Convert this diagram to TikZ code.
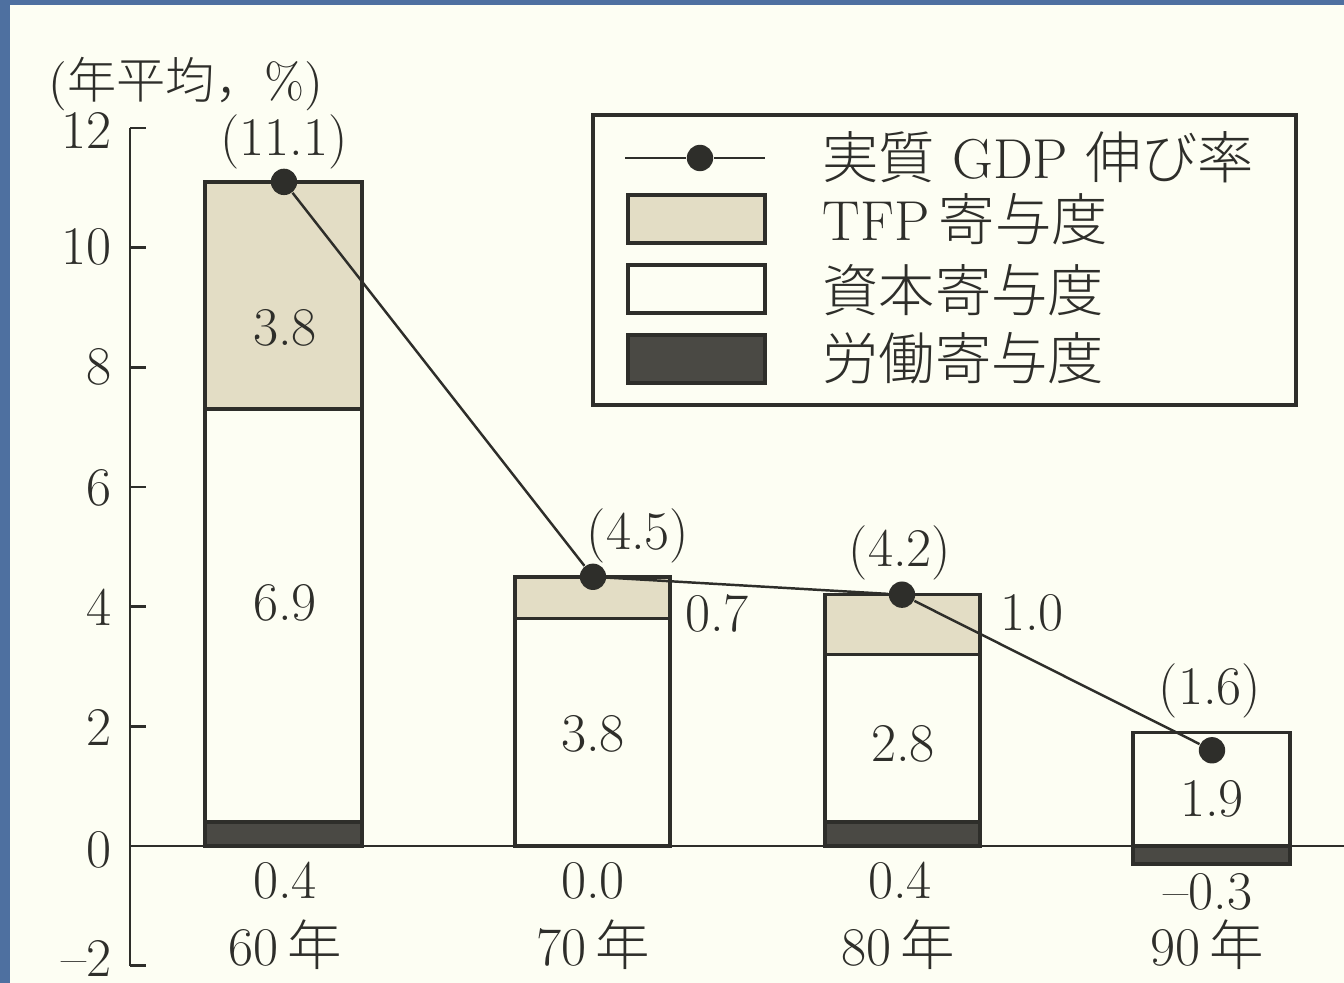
\documentclass[tikz,border=0pt]{standalone}
\usepackage{fontspec}
\IfFontExistsTF{Noto Sans CJK JP Light}
  {\newfontfamily\cjk{Noto Sans CJK JP Light}}
  {\newfontfamily\cjk{Noto Sans CJK JP}}
\definecolor{frameblue}{HTML}{4E70A0}
\definecolor{paper}{HTML}{FDFEF3}
\definecolor{tfp}{HTML}{E3DDC5}
\definecolor{labor}{HTML}{4A4944}
\definecolor{ink}{HTML}{2E2E2A}
\begin{document}
\begin{tikzpicture}[x=0.01cm,y=-0.01cm,
  bar/.style={draw=ink,line width=1pt},
  tfpbar/.style={bar,fill=tfp},
  capbar/.style={bar,fill=paper},
  labbar/.style={bar,fill=labor},
  num/.style={font=\fontsize{15.5}{18}\selectfont,text=ink,inner sep=0pt},
  ylab/.style={num,anchor=east},
  dot/.style={circle,fill=ink,inner sep=0pt,minimum size=7.5pt},
  gdp/.style={draw=ink,line width=0.7pt},
  leg/.style={font=\fontsize{16}{18}\selectfont,anchor=west,text=ink,inner sep=0pt},
  axis/.style={draw=ink,line width=0.8pt},
]
% background and frame
\fill[frameblue] (0,0) rectangle (1344,983);
\fill[paper] (10,5) rectangle (1344,983);
\useasboundingbox (0,0) rectangle (1344,983);

% axes
\draw[axis] (130,128) -- (130,966);
\foreach \yy in {128,247.7,367.4,487,606.7,726.3,965.7}
  \draw[axis] (130,\yy) -- (146,\yy);
\draw[axis] (130,846) -- (1344,846);

% y labels
\node[ylab] (y12) at (112,130) {12};
\node[ylab] (y10) at (112,247) {10};
\node[ylab] (y8) at (112,367) {8};
\node[ylab] (y6) at (112,488) {6};
\node[ylab] (y4) at (112,607) {4};
\node[ylab] (y2) at (112,727) {2};
\node[ylab] (y0) at (112,850) {0};
\node[ylab] (ym2) at (112,958) {\textendash2};
\node[anchor=west,inner sep=0pt,text=ink,font=\fontsize{14}{16}\selectfont] (unit) at (48,84) {({\cjk 年平均，}\%)};

% bars 60
\draw[labbar] (205,846) rectangle (362,822.1);
\draw[capbar] (205,822.1) rectangle (362,409.2);
\draw[tfpbar] (205,409.2) rectangle (362,181.9);
% bars 70
\draw[capbar] (515,846) rectangle (670,618.6);
\draw[tfpbar] (515,618.6) rectangle (670,576.8);
% bars 80
\draw[labbar] (825,846) rectangle (980,822.1);
\draw[capbar] (825,822.1) rectangle (980,654.5);
\draw[tfpbar] (825,654.5) rectangle (980,594.7);
% bars 90
\draw[labbar] (1133,846) rectangle (1290,863.9);
\draw[capbar] (1133,846) rectangle (1290,732.3);

% GDP line
\node[dot] (g60) at (284,181.9) {};
\node[dot] (g70) at (593,576.8) {};
\node[dot] (g80) at (902,594.7) {};
\node[dot] (g90) at (1212,750.3) {};
\draw[gdp] (g60) -- (g70) -- (g80) -- (g90);

% value labels
\node[num] (l111) at (284,142) {(11.1)};
\node[num] (l45) at (638,536) {(4.5)};
\node[num] (l42) at (900,553) {(4.2)};
\node[num] (l16) at (1210,691) {(1.6)};
\node[num] (t60) at (285,328) {3.8};
\node[num] (c60) at (285,603) {6.9};
\node[num] (c70) at (593,734) {3.8};
\node[num] (c80) at (903,744) {2.8};
\node[num] (c90) at (1212,799) {1.9};
\node[num] (t70) at (717,613) {0.7};
\node[num] (t80) at (1032,613) {1.0};
\node[num] (b60) at (285,881) {0.4};
\node[num] (b70) at (593,881) {0.0};
\node[num] (b80) at (900,881) {0.4};
\node[num] (b90) at (1208,892) {\textendash0.3};
\node[num] (x60) at (285,945) {60\,{\cjk 年}};
\node[num] (x70) at (593,945) {70\,{\cjk 年}};
\node[num] (x80) at (898,945) {80\,{\cjk 年}};
\node[num] (x90) at (1207,945) {90\,{\cjk 年}};

% legend
\draw[draw=ink,line width=1pt,fill=paper] (593,115) rectangle (1296,405);
\coordinate (la) at (625,158);
\coordinate (lb) at (765,158);
\node[dot] (ld) at (700,158) {};
\draw[gdp] (la) -- (ld) -- (lb);
\draw[tfpbar] (628,195) rectangle (765,243);
\draw[capbar] (628,265) rectangle (765,313);
\draw[labbar] (628,335) rectangle (765,383);
\node[leg] (lt1) at (822,157) {{\cjk 実質} GDP {\cjk 伸び率}};
\node[leg] (lt2) at (822,219) {TFP\,{\cjk 寄与度}};
\node[leg] (lt3) at (822,290) {{\cjk 資本寄与度}};
\node[leg] (lt4) at (822,358) {{\cjk 労働寄与度}};
\end{tikzpicture}
\end{document}
